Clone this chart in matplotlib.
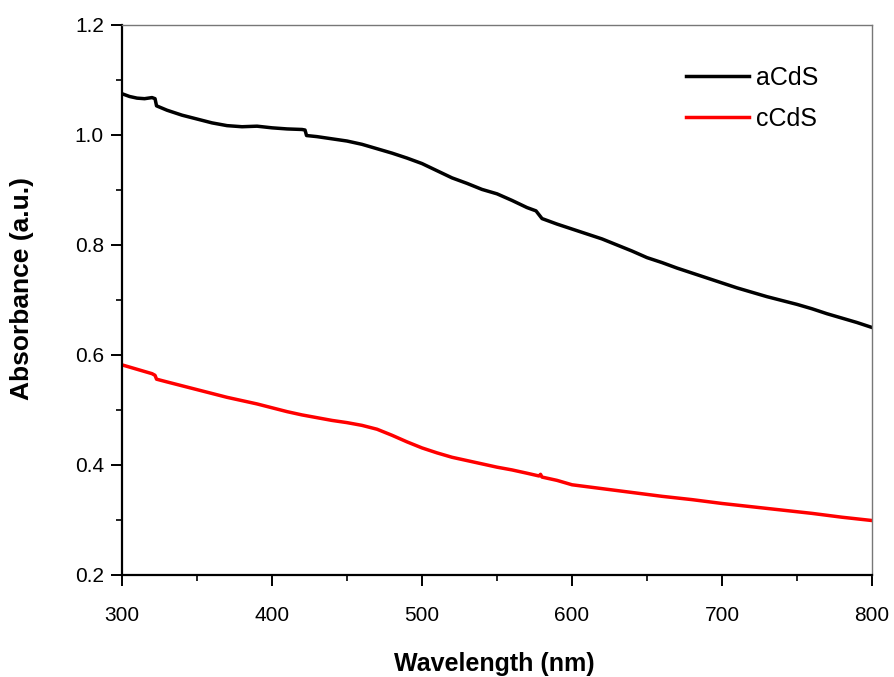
import matplotlib
matplotlib.use("Agg")
import matplotlib.pyplot as plt
from matplotlib.ticker import MultipleLocator

plt.rcParams['font.family'] = ['Liberation Sans', 'DejaVu Sans']

# Absorbance spectra
wl_a = [300, 305, 310, 315, 320, 322, 323, 330, 340, 350, 360, 370, 380, 390,
        400, 410, 420, 422, 423, 430, 440, 450, 460, 470, 480, 490, 500, 510,
        520, 530, 540, 550, 560, 570, 576, 578, 580, 590, 600, 610, 620, 630,
        640, 650, 660, 670, 680, 690, 700, 710, 720, 730, 740, 750, 760, 770,
        780, 790, 800]
abs_a = [1.075, 1.070, 1.067, 1.066, 1.068, 1.066, 1.053, 1.045, 1.036, 1.029,
         1.022, 1.017, 1.015, 1.016, 1.013, 1.011, 1.010, 1.009, 0.999, 0.997,
         0.993, 0.989, 0.983, 0.975, 0.967, 0.958, 0.948, 0.935, 0.922, 0.912,
         0.901, 0.893, 0.881, 0.868, 0.862, 0.855, 0.848, 0.838, 0.829, 0.820,
         0.811, 0.800, 0.789, 0.777, 0.768, 0.758, 0.749, 0.740, 0.731, 0.722,
         0.714, 0.706, 0.699, 0.692, 0.684, 0.675, 0.667, 0.659, 0.650]

wl_c = [300, 310, 320, 322, 323, 330, 340, 350, 360, 370, 380, 390, 400, 410,
        420, 430, 440, 450, 460, 470, 480, 490, 500, 510, 520, 530, 540, 550,
        560, 570, 578, 579, 580, 590, 600, 620, 640, 660, 680, 700, 720, 740,
        760, 780, 800]
abs_c = [0.582, 0.574, 0.566, 0.563, 0.556, 0.551, 0.544, 0.537, 0.530, 0.523,
         0.517, 0.511, 0.504, 0.497, 0.491, 0.486, 0.481, 0.477, 0.472, 0.465,
         0.454, 0.442, 0.431, 0.422, 0.414, 0.408, 0.402, 0.396, 0.391, 0.385,
         0.380, 0.383, 0.378, 0.372, 0.364, 0.357, 0.350, 0.343, 0.337, 0.330,
         0.324, 0.318, 0.312, 0.305, 0.299]

fig = plt.figure(figsize=(8.94, 6.77), dpi=100)
ax = fig.add_axes([0.1365, 0.1507, 0.8389, 0.8124])

ax.plot(wl_a, abs_a, color='black', linewidth=2.5, label='aCdS')
ax.plot(wl_c, abs_c, color='red', linewidth=2.5, label='cCdS')

ax.set_xlim(300, 800)
ax.set_ylim(0.2, 1.2)
ax.xaxis.set_major_locator(MultipleLocator(100))
ax.xaxis.set_minor_locator(MultipleLocator(50))
ax.yaxis.set_major_locator(MultipleLocator(0.2))
ax.yaxis.set_minor_locator(MultipleLocator(0.1))
ax.yaxis.set_major_formatter(plt.FuncFormatter(lambda v, p: f"{v:.1f}"))

for side in ['left', 'bottom']:
    ax.spines[side].set_linewidth(1.6)
for side in ['top', 'right']:
    ax.spines[side].set_linewidth(1.0)
    ax.spines[side].set_color('#777777')

ax.tick_params(which='major', direction='out', length=8, width=1.4, labelsize=15, pad=5)
ax.tick_params(which='minor', direction='out', length=4.5, width=1.2)
ax.tick_params(axis='x', pad=14)

ax.set_xlabel('Wavelength (nm)', fontsize=18, fontweight='bold')
ax.set_ylabel('Absorbance (a.u.)', fontsize=19, fontweight='bold')
ax.xaxis.set_label_coords(0.497, -0.14)
ax.yaxis.set_label_coords(-0.117, 0.52)

ax.legend(loc='upper left', bbox_to_anchor=(0.752, 0.926), frameon=False, fontsize=18,
          handlelength=2.5, handletextpad=0.28, labelspacing=0.7,
          borderpad=0, borderaxespad=0)

fig.savefig('out.png', dpi=100)
